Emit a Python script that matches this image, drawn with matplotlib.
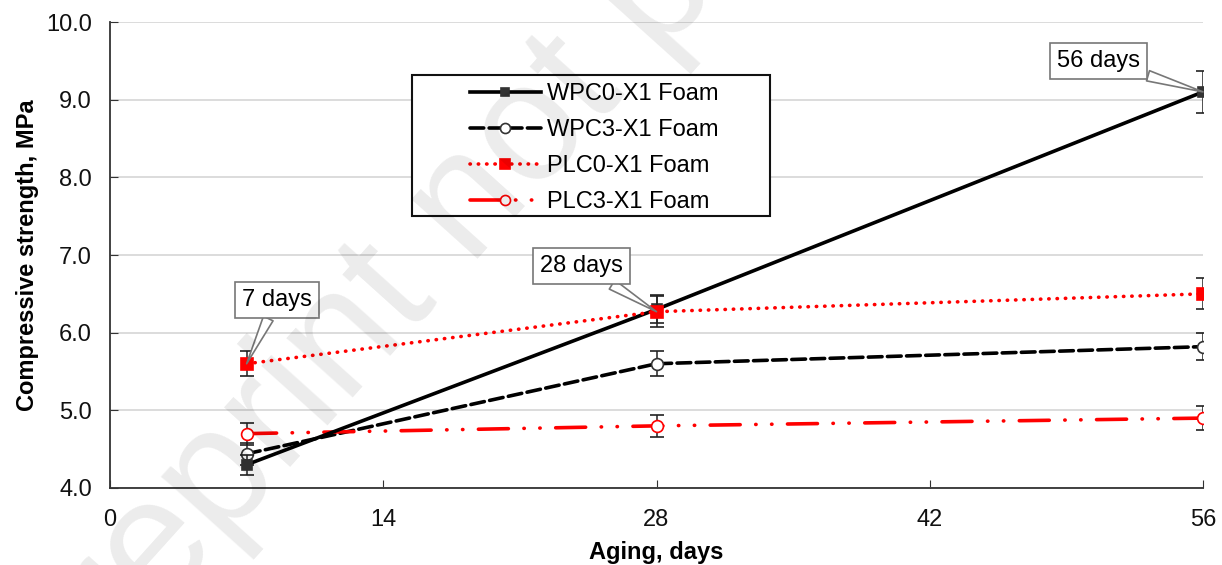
import matplotlib
matplotlib.use('Agg')
from matplotlib import pyplot as plt
from matplotlib.lines import Line2D
from matplotlib.patches import Rectangle

plt.rcParams['font.family'] = ['Liberation Sans', 'DejaVu Sans']

# data -----------------------------------------------------------------------
days = [7, 28, 56]
wpc0 = [4.30, 6.30, 9.10]
wpc0_err = [0.13, 0.18, 0.27]
wpc3 = [4.44, 5.60, 5.82]
wpc3_err = [0.14, 0.16, 0.17]
plc0 = [5.60, 6.27, 6.50]
plc0_err = [0.16, 0.20, 0.20]
plc3 = [4.70, 4.80, 4.90]
plc3_err = [0.14, 0.14, 0.15]

labels = ['WPC0-X1 Foam', 'WPC3-X1 Foam', 'PLC0-X1 Foam', 'PLC3-X1 Foam']
callouts = [('7 days', 7, 5.60, (22, 46)),
            ('28 days', 28, 6.27, (-54, 33)),
            ('56 days', 56, 9.10, (-75, 22))]

# series styles ----------------------------------------------------------------
styles = [
    dict(color='black', ls='-', marker='s', ms=7.5, mfc='#333333', mec='#333333'),
    dict(color='black', ls=(0, (3.8, 1.5)), marker='o', ms=8.5, mfc='white', mec='#333333'),
    dict(color='#ff0000', ls=(0, (0.1, 2.2)), marker='s', ms=8, mfc='#ff0000', mec='#ff0000'),
    dict(color='#ff0000', ls=(0, (8.3, 4.3, 0.1, 4.3, 0.1, 4.3)), marker='o', ms=8.5,
         mfc='white', mec='#ff0000'),
]
series = [(wpc0, wpc0_err), (wpc3, wpc3_err), (plc0, plc0_err), (plc3, plc3_err)]
orders = [5, 4, 6, 4]

# figure ---------------------------------------------------------------------
fig = plt.figure(figsize=(12.22, 5.65), dpi=100)
ax = fig.add_axes([110 / 1222, 77 / 565, 1093 / 1222, 466 / 565])

for (vals, errs), st, z in zip(series, styles, orders):
    ax.errorbar(days, vals, yerr=errs, lw=2.6, mew=1.2, dash_capstyle='round',
                ecolor='#222222', elinewidth=1.1, capsize=5, capthick=1.1,
                zorder=z, **st)

for text, x, y, offs in callouts:
    ax.annotate(text, xy=(x, y), xytext=offs, textcoords='offset points',
                fontsize=17, ha='center', va='center', zorder=8,
                bbox=dict(boxstyle='square,pad=0.3', fc='white', ec='#777777', lw=1.2),
                arrowprops=dict(arrowstyle='wedge,tail_width=0.45,shrink_factor=0.5',
                                fc='white', ec='#777777', lw=1.2, shrinkA=0, shrinkB=0))

ax.set_xlim(0, 56)
ax.set_ylim(4.0, 10.0)
ax.set_xticks([0, 14, 28, 42, 56])
ax.set_yticks([4, 5, 6, 7, 8, 9, 10])
ax.set_yticklabels([f'{v:.1f}' for v in [4, 5, 6, 7, 8, 9, 10]])
ax.tick_params(axis='both', labelsize=17, colors='#333333', labelcolor='#111111',
               length=6, direction='in')
ax.tick_params(axis='x', pad=15)
ax.tick_params(axis='y', pad=13)
ax.grid(axis='y', color='#d9d9d9', lw=1.3)
ax.set_axisbelow(True)
for side in ['top', 'right']:
    ax.spines[side].set_visible(False)
for side in ['left', 'bottom']:
    ax.spines[side].set_color('#333333')
    ax.spines[side].set_linewidth(1.3)

ax.set_xlabel('Aging, days', fontsize=17, fontweight='bold', labelpad=7)
ax.set_ylabel('Compressive strength, MPa', fontsize=17, fontweight='bold', labelpad=5)

# legend with a fixed frame
frame = Rectangle((412 / 1222, 1 - 216 / 565), 358 / 1222, 141 / 565,
                  transform=fig.transFigure, fc='white', ec='#111111', lw=1.5, zorder=9)
ax.add_patch(frame)
frame.set_clip_on(False)
handles = [Line2D([], [], lw=2.6, mew=1.2, dash_capstyle='round', **st) for st in styles]
for h in handles:
    h.set_markersize(h.get_markersize() * 0.85)
leg = ax.legend(handles, labels, loc='upper left', bbox_to_anchor=(470 / 1222, 1 - 83 / 565),
                bbox_transform=fig.transFigure, fontsize=17, frameon=False,
                borderpad=0, labelspacing=0.6, handlelength=3.0, handletextpad=0.25,
                borderaxespad=0)
leg.set_zorder(10)

# watermark laid over the page, anchored at the start of its baseline
fig.text(0.038, -0.308, 'Preprint not peer reviewed', fontsize=121, color='black', alpha=0.08,
         rotation=48, rotation_mode='anchor', ha='left', va='baseline', zorder=20)

fig.savefig('out.png', dpi=100)
